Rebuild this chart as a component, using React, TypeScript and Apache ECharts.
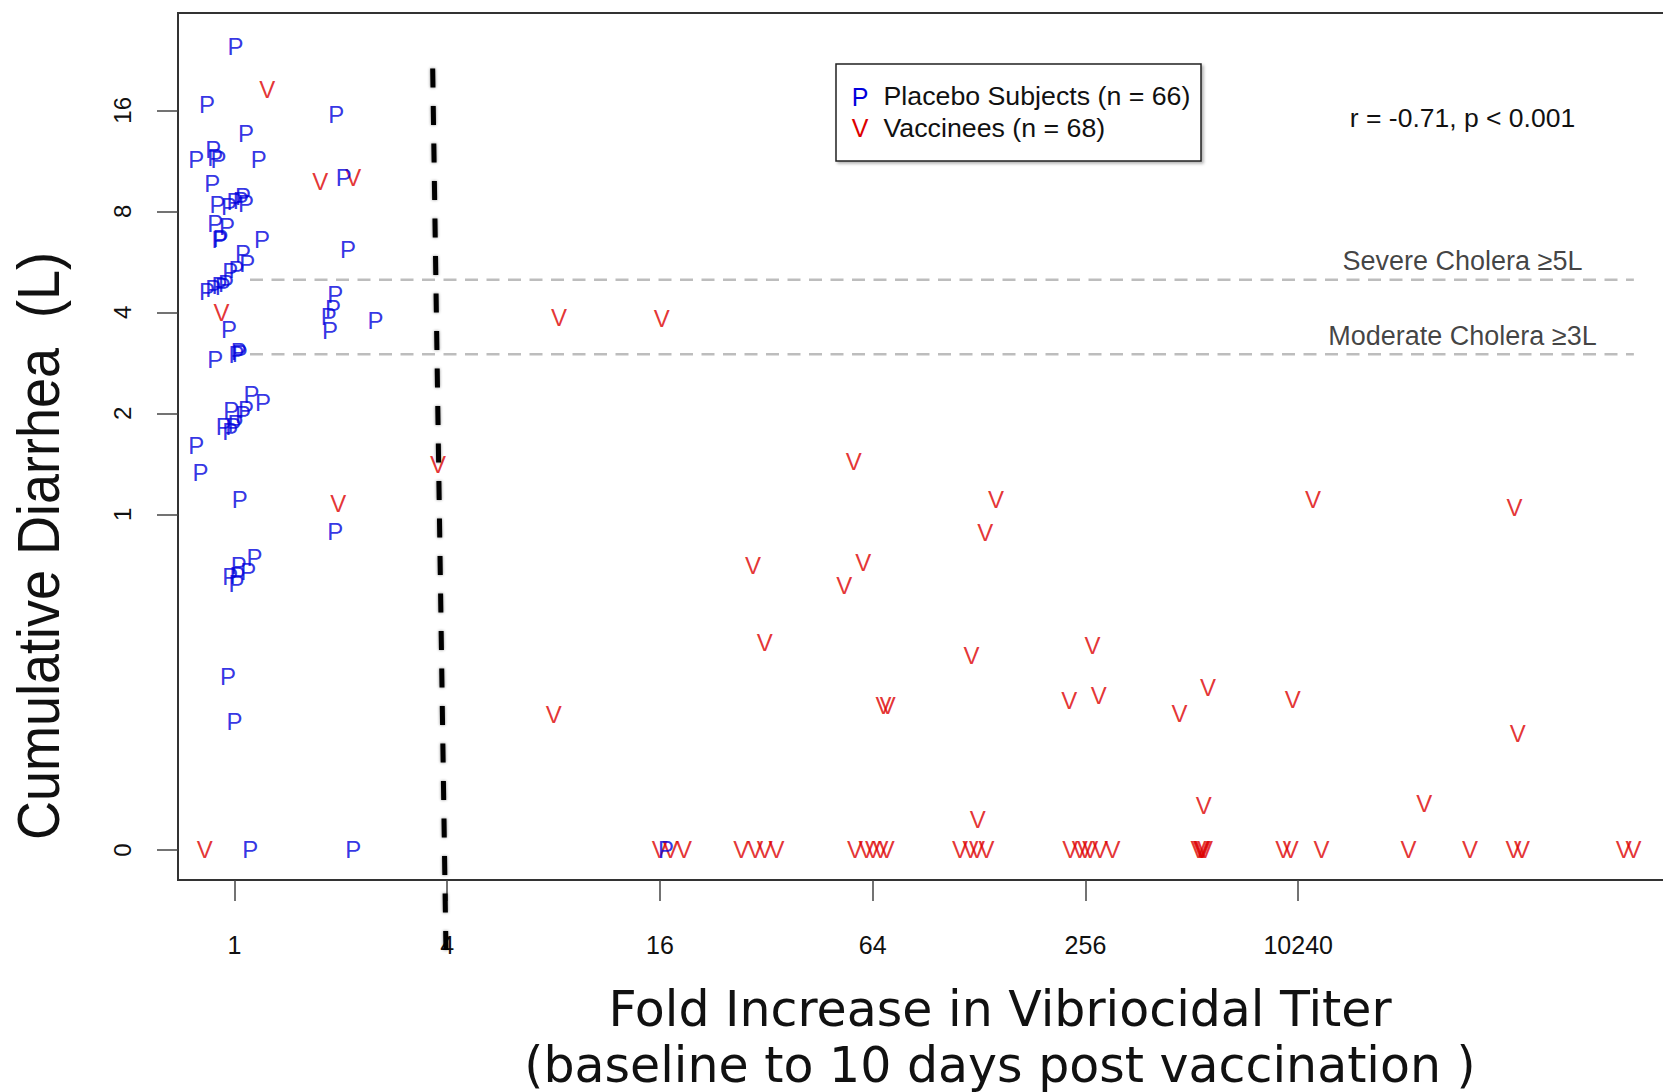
import React, { useEffect, useRef } from "react";
import * as echarts from "echarts";

// ---- data (fold increase in vibriocidal titer, cumulative diarrhea in litres) ----
const placeboFold = [
  1.007, 0.836, 1.079, 0.78, 0.871, 0.901, 1.172, 0.865, 0.895, 0.966,
  1.0, 1.057, 1.079, 0.883, 0.953, 0.908, 1.197, 1.057, 1.087, 0.973,
  1.014, 0.836, 0.871, 0.908, 0.946, 0.966, 0.883, 1.028, 1.014, 1.117,
  1.205, 0.979, 1.057, 0.933, 1.007, 0.973, 0.78, 0.802, 1.035, 1.14,
  1.028, 1.094, 0.973, 1.014, 0.959, 1.0, 1.109, 1.941, 2.038, 2.095,
  1.928, 1.902, 1.85, 1.863, 2.507, 1.928, 2.169, 16.65,
  0.927, 1.042, 1.021, 0.883, 0.993, 1.079, 1.035, 0.914,
];
const placeboLiters = [
  24.8, 16.6, 13.6, 11.4, 12.2, 11.4, 11.4, 9.7, 8.37, 8.25,
  8.56, 8.87, 8.44, 7.35, 7.19, 6.59, 6.59, 5.99, 5.61, 5.29,
  5.37, 4.61, 4.71, 4.82, 4.89, 3.55, 2.89, 3.05, 3.0, 2.28,
  2.15, 2.04, 1.98, 1.83, 1.87, 1.76, 1.6, 1.33, 1.11, 0.742,
  0.705, 0.675, 0.651, 0.623, 0.328, 0.242, 0, 15.5, 10.1, 6.17,
  4.51, 4.1, 3.9, 3.52, 3.79, 0.89, 0, 0,
  4.78, 8.6, 0.656, 11.6, 1.83, 2.06, 3.02, 6.63,
];
const vaccineFold = [
  1.239, 0.92, 1.75, 2.169, 1.968, 8.29, 16.2, 3.77, 29.35, 31.67,
  8.01, 56.6, 142.9, 133.3, 60.2, 53.2, 121.9, 68.7, 70.6, 268.0,
  230.2, 279.3, 472.2, 569.2, 553.6, 127.0, 1128, 4193, 989, 4281, 2330,
  0.824, 15.98, 17.13, 18.73, 27.2, 29.8, 31.7, 34.2, 57.0, 61.5,
  64.1, 67.3, 70.1, 113.0, 121.1, 126.2, 134.3, 231.7, 246.6, 255.3,
  264.3, 281.3, 305.6, 534.8, 542.3, 546.0, 549.9, 557.5, 929, 975.5,
  1192, 2101, 3137, 4165, 4401, 8547, 9097,
];
const vaccineLiters = [
  18.4, 3.99, 9.83, 10.1, 1.08, 3.87, 3.84, 1.41, 0.705, 0.415,
  0.253, 1.44, 1.107, 0.884, 0.721, 0.614, 0.38, 0.27, 0.27, 0.406,
  0.278, 0.288, 0.2545, 0.305, 0.136, 0.123, 1.107, 1.052, 0.28, 0.223, 0.138,
  0, 0, 0, 0, 0, 0, 0, 0, 0, 0,
  0, 0, 0, 0, 0, 0, 0, 0, 0, 0,
  0, 0, 0, 0, 0, 0, 0, 0, 0, 0,
  0, 0, 0, 0, 0, 0, 0,
];

const xTickFolds = [1, 4, 16, 64, 256, 1024];
const xTickLabels = ["1", "4", "16", "64", "256", "10240"];
const yTickLiters = [0, 1, 2, 4, 8, 16];
const yTickLabels = ["0", "1", "2", "4", "8", "16"];

const thresholdLiters = [5, 3];
const thresholdLabels = ["Severe Cholera \u22655L", "Moderate Cholera \u22653L"];
const thresholdFoldRange = [1.107, 9124];
const thresholdLabelFold = 2986;

// hand-drawn 4-fold cut-off line (runs from the top of the panel to below the axis)
const cutoffFold = [3.64, 3.97];
const cutoffLiters = [21.3, 0.0493];

const legendLabels = ["Placebo Subjects (n = 66)", "Vaccinees (n = 68)"];
const statText = "r = -0.71, p < 0.001";
const xTitle = "Fold Increase in Vibriocidal Titer\n(baseline to 10 days post vaccination )";
const yTitle = "Cumulative Diarrhea  (L)";

const ZERO_AT = 0.1;
const BLUE = "#0000dd";
const RED = "#dd0000";
const ARIAL = '"Liberation Sans", Arial, sans-serif';
const VERDANA = '"DejaVu Sans", Verdana, sans-serif';

const tx = (f: number) => Math.log2(f);
const ty = (l: number) => Math.log10(Math.max(l, ZERO_AT));

const nearestLabel = (ticks: number[], labels: string[]) => (v: number) => {
  let best = 0;
  ticks.forEach((t, i) => {
    if (Math.abs(t - v) < Math.abs(ticks[best] - v)) best = i;
  });
  return labels[best];
};

export default function App() {
  const ref = useRef<HTMLDivElement>(null);

  useEffect(() => {
    const chart = echarts.init(ref.current as HTMLDivElement, null, { renderer: "svg" });

    const placebo = placeboFold.map((f, i) => [tx(f), ty(placeboLiters[i])]);
    const vaccine = vaccineFold.map((f, i) => [tx(f), ty(vaccineLiters[i])]);
    const xTicks = xTickFolds.map(tx);
    const yTicks = yTickLiters.map(ty);

    const thresholdSeries = thresholdLiters.map((l) => ({
      type: "line",
      silent: true,
      symbol: "none",
      data: thresholdFoldRange.map((f) => [tx(f), ty(l)]),
      lineStyle: { color: "#bdbdbd", width: 2.5, type: [13, 8.5] },
      z: 1,
    }));

    const markerLabel = (text: string, color: string) => ({
      show: true,
      position: "inside",
      formatter: text,
      color,
      fontSize: 24,
      fontFamily: ARIAL,
    });

    chart.setOption({
      animation: false,
      backgroundColor: "#ffffff",
      grid: {
        left: 178,
        top: 13,
        width: 1644,
        bottom: 212,
        containLabel: false,
        outerBoundsMode: "none",
        show: true,
        borderColor: "#333",
        borderWidth: 2,
        backgroundColor: "transparent",
      },
      xAxis: {
        type: "value",
        min: -0.5302,
        max: 14.924,
        axisLine: { show: false, onZero: false },
        splitLine: { show: false },
        axisTick: {
          show: true,
          customValues: xTicks,
          length: 21,
          lineStyle: { color: "#444", width: 1.5 },
        },
        axisLabel: {
          customValues: xTicks,
          formatter: nearestLabel(xTicks, xTickLabels),
          margin: 52,
          fontSize: 25,
          fontFamily: ARIAL,
          color: "#111",
        },
        name: xTitle,
        nameLocation: "middle",
        nameGap: 101,
        nameTextStyle: {
          fontSize: 49,
          fontFamily: VERDANA,
          color: "#111",
          lineHeight: 56,
          align: "center",
        },
      },
      yAxis: {
        type: "value",
        min: -1.0894,
        max: 1.494,
        axisLine: { show: false, onZero: false },
        splitLine: { show: false },
        axisTick: {
          show: true,
          customValues: yTicks,
          length: 21,
          lineStyle: { color: "#444", width: 1.5 },
        },
        axisLabel: {
          customValues: yTicks,
          formatter: nearestLabel(yTicks, yTickLabels),
          rotate: 90,
          align: "center",
          verticalAlign: "bottom",
          margin: 44,
          fontSize: 24,
          fontFamily: ARIAL,
          color: "#111",
        },
      },
      series: [
        ...thresholdSeries,
        {
          type: "scatter",
          name: "thresholdLabels",
          silent: true,
          symbolSize: 1,
          itemStyle: { color: "rgba(0,0,0,0)" },
          data: thresholdLiters.map((l) => [tx(thresholdLabelFold), ty(l)]),
          label: {
            show: true,
            position: "inside",
            offset: [0, -18.5],
            formatter: (p: any) => thresholdLabels[p.dataIndex],
            fontSize: 27,
            fontFamily: ARIAL,
            color: "#111",
          },
          z: 2,
        },
        {
          type: "scatter",
          name: "Vaccinees",
          silent: true,
          symbolSize: 1,
          itemStyle: { color: "rgba(0,0,0,0)" },
          data: vaccine,
          label: markerLabel("V", RED),
          z: 3,
        },
        {
          type: "scatter",
          name: "Placebo",
          silent: true,
          symbolSize: 1,
          itemStyle: { color: "rgba(0,0,0,0)" },
          data: placebo,
          label: markerLabel("P", BLUE),
          z: 4,
        },
        {
          type: "line",
          name: "cutoff",
          silent: true,
          clip: false,
          symbol: "none",
          data: cutoffFold.map((f, i) => [tx(f), Math.log10(cutoffLiters[i])]),
          lineStyle: {
            color: "#000",
            width: 5,
            type: [19, 18.5],
            shadowBlur: 3,
            shadowColor: "rgba(0,0,0,0.45)",
          },
          z: 5,
        },
      ],
      graphic: [
        {
          type: "rect",
          z: 10,
          shape: { x: 836, y: 64, width: 365, height: 97 },
          style: {
            fill: "#fff",
            stroke: "#222",
            lineWidth: 1.5,
            shadowBlur: 3,
            shadowOffsetX: 2,
            shadowOffsetY: 2,
            shadowColor: "rgba(0,0,0,0.3)",
          },
        },
        {
          type: "text",
          z: 11,
          x: 860,
          y: 96.5,
          style: { text: "P", fill: BLUE, fontSize: 25, fontFamily: ARIAL, align: "center", verticalAlign: "middle" },
        },
        {
          type: "text",
          z: 11,
          x: 883.5,
          y: 96.5,
          scaleX: 1.07,
          style: { text: legendLabels[0], fill: "#111", fontSize: 25, fontFamily: ARIAL, align: "left", verticalAlign: "middle" },
        },
        {
          type: "text",
          z: 11,
          x: 860,
          y: 128.3,
          style: { text: "V", fill: RED, fontSize: 25, fontFamily: ARIAL, align: "center", verticalAlign: "middle" },
        },
        {
          type: "text",
          z: 11,
          x: 883.5,
          y: 128.3,
          scaleX: 1.07,
          style: { text: legendLabels[1], fill: "#111", fontSize: 25, fontFamily: ARIAL, align: "left", verticalAlign: "middle" },
        },
        {
          type: "text",
          z: 11,
          x: 1462.5,
          y: 118.3,
          scaleX: 1.06,
          style: { text: statText, fill: "#111", fontSize: 25, fontFamily: ARIAL, align: "center", verticalAlign: "middle" },
        },
        {
          type: "text",
          z: 11,
          x: 39,
          y: 546,
          rotation: Math.PI / 2,
          scaleY: 1.08,
          style: { text: yTitle, fill: "#111", fontSize: 54, fontFamily: ARIAL, align: "center", verticalAlign: "middle" },
        },
      ],
    });

    return () => chart.dispose();
  }, []);

  return (
    <div
      ref={ref}
      style={{ position: "fixed", left: 0, top: 0, width: 1663, height: 1092, background: "#fff" }}
    />
  );
}
